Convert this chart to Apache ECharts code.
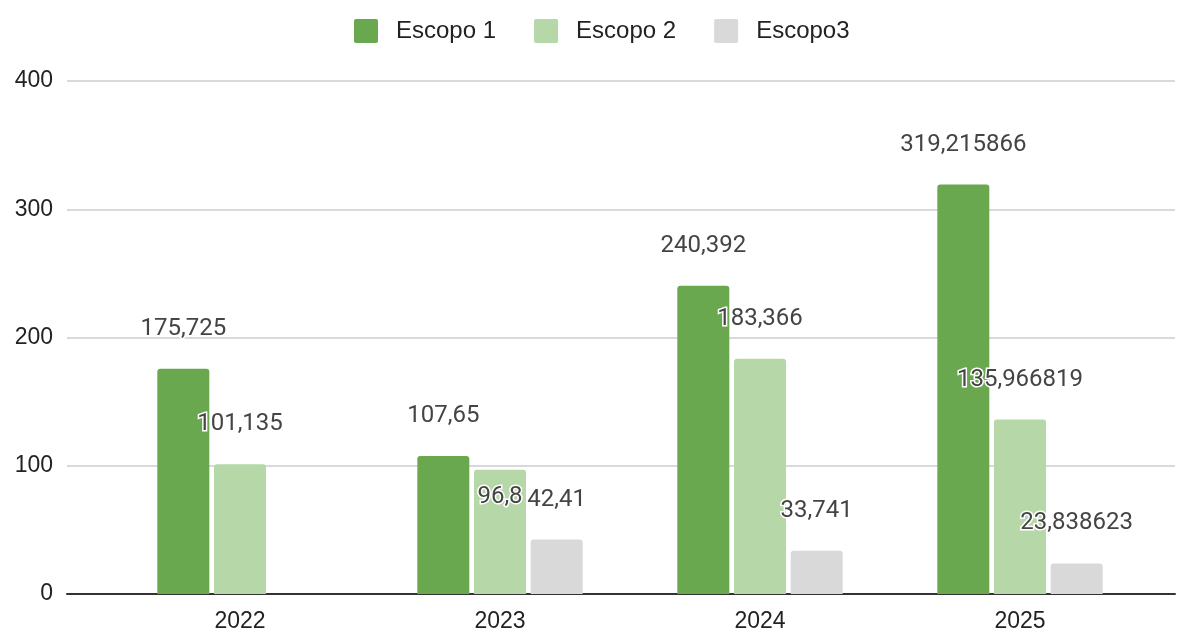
<!DOCTYPE html>
<html>
<head>
<meta charset="utf-8">
<script src="https://cdn.jsdelivr.net/npm/echarts@6/dist/echarts.min.js"></script>
<style>html,body{margin:0;padding:0;background:#fff;}#c{width:1184px;height:634px;}</style>
</head>
<body>
<div id="c"></div>
<script>
var categories = ['2022', '2023', '2024', '2025'];
var seriesNames = ['Escopo 1', 'Escopo 2', 'Escopo3'];
var escopo1 = [175.725, 107.65, 240.392, 319.215866];
var escopo2 = [101.135, 96.8, 183.366, 135.966819];
var escopo3 = [null, 42.41, 33.741, 23.838623];
var yTicks = [0, 100, 200, 300, 400];

var colors = ['#6aa84f', '#b6d7a8', '#d9d9d9'];
var chart = echarts.init(document.getElementById('c'));

function fmt(p) { return p.value == null ? '' : String(p.value).replace('.', ','); }
function mkData(arr, shiftIdx) {
  return arr.map(function (v, i) {
    if (v == null) return '-';
    if (i === shiftIdx) return { value: v, label: { offset: [0, 67] } };
    return v;
  });
}
var labelStyle = {
  show: true, position: 'top', distance: 28, formatter: fmt,
  fontFamily: 'Roboto', fontSize: 24, color: '#444',
  textBorderColor: '#fff', textBorderWidth: 3
};
var allData = [mkData(escopo1, -1), mkData(escopo2, 1), mkData(escopo3, -1)];
var legendIcon = 'path://M2,0H22Q24,0 24,2V22Q24,24 22,24H2Q0,24 0,22V2Q0,0 2,0Z';

chart.setOption({
  animation: false,
  legend: {
    top: 14, left: 349, itemWidth: 24, itemHeight: 24, itemGap: 38,
    icon: legendIcon,
    textStyle: { fontFamily: 'Liberation Sans', fontSize: 24, color: '#222', padding: [0, 0, 0, 13] },
    data: seriesNames
  },
  grid: [
    { left: 67, right: 9, top: 81, bottom: 40, containLabel: false },
    { left: 110, right: 34, top: 81, bottom: 40, containLabel: false }
  ],
  xAxis: [
    { gridIndex: 0, type: 'category', data: [''], axisLine: { show: true, lineStyle: { color: '#333', width: 2 } },
      axisTick: { show: false }, axisLabel: { show: false } },
    { gridIndex: 1, type: 'category', data: categories, axisLine: { show: false }, axisTick: { show: false },
      axisLabel: { fontFamily: 'Liberation Sans', fontSize: 23, color: '#222', margin: 16 } }
  ],
  yAxis: [
    { gridIndex: 0, type: 'value', min: yTicks[0], max: yTicks[yTicks.length - 1], interval: 100,
      axisLine: { show: false }, axisTick: { show: false },
      splitLine: { lineStyle: { color: '#cccccc', width: 1.5 } },
      axisLabel: { fontFamily: 'Liberation Sans', fontSize: 23, color: '#222', margin: 14 } },
    { gridIndex: 1, type: 'value', min: yTicks[0], max: yTicks[yTicks.length - 1], interval: 100,
      show: false, splitLine: { show: false } }
  ],
  series: seriesNames.map(function (n, k) {
    return {
      name: n, type: 'bar', xAxisIndex: 1, yAxisIndex: 1,
      data: allData[k], barWidth: 52, barGap: '9%',
      itemStyle: { color: colors[k], borderRadius: [3, 3, 0, 0] },
      label: labelStyle
    };
  })
});
</script>
</body>
</html>
